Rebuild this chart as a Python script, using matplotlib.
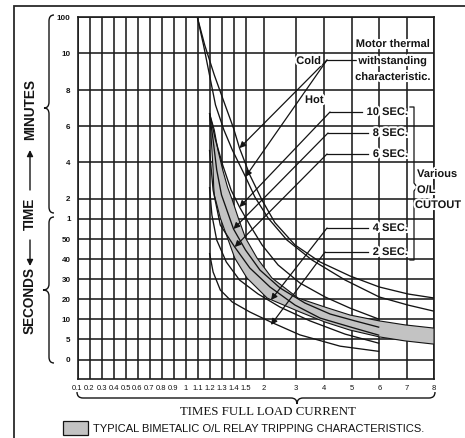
import numpy as np
import matplotlib
matplotlib.use("Agg")
import matplotlib.pyplot as plt
from matplotlib.path import Path
from matplotlib.patches import PathPatch, Rectangle
import matplotlib.patheffects as pe

# ---------------------------------------------------------------- data
# multiples of full load current shown on the horizontal axis
current_ticks = [0.1, 0.2, 0.3, 0.4, 0.5, 0.6, 0.7, 0.8, 0.9, 1.0, 1.1, 1.2, 1.3,
                 1.4, 1.5, 2, 3, 4, 5, 6, 7, 8]
current_labels = ["0.1", "0.2", "0.3", "0.4", "0.5", "0.6", "0.7", "0.8", "0.9",
                  "1", "1.1", "1.2", "1.3", "1.4", "1.5", "2", "3", "4", "5", "6",
                  "7", "8"]
# elapsed time in seconds (upper part of the scale is read in minutes)
time_ticks = [0, 5, 10, 20, 30, 40, 50, 60, 120, 240, 360, 480, 600, 6000]
time_labels = ["0", "5", "10", "20", "30", "40", "50", "1", "2", "4", "6", "8",
               "10", "100"]

# motor thermal withstanding characteristic
cold_x = [1.10, 1.16, 1.24, 1.33, 1.40, 1.45, 1.62, 1.96, 2.35, 2.97, 3.86, 4.94, 6.0, 7.05, 8.0]
cold_t = [5900, 1850, 529, 430, 353, 287, 198, 115, 58, 47, 38.5, 31.5, 26, 22.5, 20.5]
hot_x = [1.10, 1.15, 1.20, 1.25, 1.32, 1.39, 1.50, 1.76, 2.14, 2.72, 3.57, 4.76, 6.0, 7.05, 8.0]
hot_t = [5900, 1850, 529, 430, 347, 281, 192, 125, 61.5, 49.5, 39.5, 29.5, 21, 17, 14]

# typical bimetallic O/L relay tripping band
band_hi_x = [1.20, 1.24, 1.27, 1.31, 1.35, 1.39, 1.44, 1.50, 1.82, 2.26, 3.07, 4.04, 4.94, 6.0, 6.94, 8.0]
band_hi_t = [403, 347, 281, 215, 158, 115.5, 61.5, 50.5, 40.5, 30.5, 20.5, 16, 12.1, 9.6, 8.6, 7.8]
band_lo_x = [1.20, 1.21, 1.22, 1.23, 1.235, 1.24, 1.29, 1.35, 1.41, 1.54, 2.11, 3.14, 4.04, 4.94, 6.0, 6.94, 8.0]
band_lo_t = [403, 347, 281, 215, 158, 132, 61.5, 50.5, 40.5, 30.5, 20.5, 13.6, 9.3, 7.3, 5.6, 4.6, 3.8]

# O/L cutout classes (trip time at 6 x FLC)
ol10_x = [1.20, 1.25, 1.31, 1.38, 1.45, 1.62, 1.96, 2.45, 3.14, 4.04, 4.94, 6.0]
ol10_t = [403, 314, 231, 148, 94.5, 56.8, 47, 37, 28, 21, 15.5, 10]
ol8_x = [1.20, 1.23, 1.26, 1.30, 1.40, 1.50, 1.90, 2.51, 3.32, 4.22, 5.12, 6.0]
ol8_t = [403, 314, 215, 132, 54.9, 44.5, 34.5, 25.5, 18, 12.6, 9.6, 8]
ol6_x = [1.20, 1.23, 1.29, 1.41, 1.62, 2.20, 2.97, 3.86, 4.94, 6.0]
ol6_t = [281, 148, 56.8, 46, 35.5, 26, 17, 10.6, 8.1, 6]
ol4_x = [1.20, 1.22, 1.26, 1.34, 1.45, 1.85, 2.51, 3.5, 4.76, 6.0]
ol4_t = [158, 70.5, 49.5, 38.5, 29.5, 22.5, 16, 9.6, 6.3, 4]
ol2_x = [1.20, 1.23, 1.29, 1.39, 1.62, 2.23, 3.14, 4.58, 6.0]
ol2_t = [43, 33.5, 24.5, 18.5, 13.6, 9.3, 6.1, 3.3, 2]

# points on the curves that the leaders point to
cold_tip = (1.45, 287)
hot_tip = (1.50, 192)
class_tips = {"10": (1.45, 94.5), "8": (1.40, 54.9), "6": (1.41, 46),
              "4": (2.23, 19.5), "2": (2.23, 8.6)}

# ---------------------------------------------------------------- layout
W, H, DPI = 465, 438, 100
X_GRID_PX = [77.5 + 12.0 * i for i in range(15)] + [263.5, 296, 324, 351.7, 379.3, 406.7, 434]
Y_VALS = [-5] + time_ticks
Y_GRID_PX = [378.5, 359.5, 339.3, 319.3, 299, 279, 259, 239, 218.5, 198.5, 162.3,
             126, 90, 53.3, 17.3]
Y_NEG = [-p for p in Y_GRID_PX]


def x_fwd(v):
    return np.interp(v, current_ticks, X_GRID_PX)


def x_inv(p):
    return np.interp(p, X_GRID_PX, current_ticks)


def y_fwd(v):
    return np.interp(v, Y_VALS, Y_NEG)


def y_inv(p):
    return np.interp(p, Y_NEG, Y_VALS)


SANS = ["Liberation Sans", "DejaVu Sans"]
INK = "#141414"
GRID = "#1c1c1c"
BAND = "#c3c3c3"

fig = plt.figure(figsize=(W / DPI, H / DPI), dpi=DPI)
fig.patch.set_facecolor("white")

ax = fig.add_axes([77.5 / W, 1 - 378.5 / H, (434 - 77.5) / W, (378.5 - 17.3) / H])
ax.set_xscale("function", functions=(x_fwd, x_inv))
ax.set_yscale("function", functions=(y_fwd, y_inv))
ax.set_xlim(0.1, 8)
ax.set_ylim(-5, 6000)

ax.set_xticks(current_ticks)
ax.set_xticklabels(current_labels, family=SANS, fontsize=5.5, color=INK)
ax.set_yticks(time_ticks)
ax.set_yticklabels(time_labels, family=SANS, fontsize=5.8, fontweight="bold", color=INK)
ax.xaxis.set_minor_locator(matplotlib.ticker.NullLocator())
ax.yaxis.set_minor_locator(matplotlib.ticker.NullLocator())
ax.tick_params(axis="both", length=0)
ax.tick_params(axis="x", pad=4.5)
ax.tick_params(axis="y", pad=5.0)
ax.grid(True, color=GRID, lw=1.15)
ax.set_axisbelow(True)
for s in ax.spines.values():
    s.set_color(GRID)
    s.set_linewidth(1.2)

# tripping band
ax.fill(band_hi_x + band_lo_x[::-1], band_hi_t + band_lo_t[::-1],
        facecolor=BAND, edgecolor=INK, lw=0.8, zorder=3)

curve_kw = dict(color=INK, lw=0.95, zorder=4, solid_capstyle="butt")
for xs, ts in [(cold_x, cold_t), (hot_x, hot_t), (ol10_x, ol10_t), (ol8_x, ol8_t),
               (ol6_x, ol6_t), (ol4_x, ol4_t), (ol2_x, ol2_t)]:
    ax.plot(xs, ts, **curve_kw)

# overlay in pixel units for annotations and decorations
ov = fig.add_axes([0, 0, 1, 1])
ov.set_xlim(0, W)
ov.set_ylim(H, 0)
ov.axis("off")

halo = [pe.withStroke(linewidth=3.0, foreground="white")]
lab_kw = dict(family=SANS, fontweight="bold", fontsize=8.0, color=INK,
              path_effects=halo, zorder=6)

arrow_kw = dict(arrowstyle="-|>", mutation_scale=9, lw=0.9, color=INK,
                shrinkA=0, shrinkB=0)

# motor thermal label and leaders
ov.text(393, 44, "Motor thermal", ha="center", va="center", **lab_kw)
ov.text(393, 61, "withstanding", ha="center", va="center", **lab_kw)
ov.text(393, 77, "characteristic.", ha="center", va="center", **lab_kw)
ov.text(321, 61, "Cold", ha="right", va="center", **lab_kw)
ov.text(305, 100, "Hot", ha="left", va="center", **lab_kw)
ov.plot([327, 356], [60, 60], color=INK, lw=0.9, zorder=5)
for tip in (cold_tip, hot_tip):
    ax.annotate("", xy=tip, xytext=(327, 60), textcoords=ov.transData,
                arrowprops=arrow_kw, zorder=5)

# O/L class labels with leaders
class_rows = [("10", 112, 330), ("8", 133, 328), ("6", 154, 327),
              ("4", 228, 327), ("2", 252, 325)]
for name, yy, xe in class_rows:
    ov.text(408, yy, f"{name} SEC.", ha="right", va="center", **lab_kw)
    tw = 43 if name == "10" else 37
    ov.plot([xe, 408 - tw - 3], [yy, yy], color=INK, lw=0.9, zorder=5)
    ax.annotate("", xy=class_tips[name], xytext=(xe, yy), textcoords=ov.transData,
                arrowprops=arrow_kw, zorder=5)

# bracket grouping the cutout classes
ov.plot([410, 414, 414, 417, 414, 414, 410], [107, 107, 183, 187, 191, 260, 260],
        color=INK, lw=0.9, zorder=5)
ov.text(417, 174, "Various", ha="left", va="center", **lab_kw)
ov.text(417, 190, "O/L", ha="left", va="center", **lab_kw)
ov.text(415, 205, "CUTOUT", ha="left", va="center", **lab_kw)


def vbrace(xs, xt, xh, y1, y2, ym, r=6):
    v = [(xh, y1), (xs, y1), (xs, y1 + r), (xs, ym - r), (xs, ym), (xt, ym),
         (xs, ym), (xs, ym + r), (xs, y2 - r), (xs, y2), (xh, y2)]
    c = [Path.MOVETO, Path.CURVE3, Path.CURVE3, Path.LINETO, Path.CURVE3, Path.CURVE3,
         Path.CURVE3, Path.CURVE3, Path.LINETO, Path.CURVE3, Path.CURVE3]
    return Path(v, c)


def hbrace(ys, yt, yh, x1, x2, xm, r=6):
    v = [(x1, yh), (x1, ys), (x1 + r, ys), (xm - r, ys), (xm, ys), (xm, yt),
         (xm, ys), (xm + r, ys), (x2 - r, ys), (x2, ys), (x2, yh)]
    c = [Path.MOVETO, Path.CURVE3, Path.CURVE3, Path.LINETO, Path.CURVE3, Path.CURVE3,
         Path.CURVE3, Path.CURVE3, Path.LINETO, Path.CURVE3, Path.CURVE3]
    return Path(v, c)


brace_kw = dict(facecolor="none", edgecolor=INK, lw=1.0)
ov.add_patch(PathPatch(vbrace(49, 44, 54, 15, 213, 108), **brace_kw))
ov.add_patch(PathPatch(vbrace(49, 43, 54, 217, 363, 290), **brace_kw))
ov.add_patch(PathPatch(hbrace(398, 404, 392, 77, 435, 297), **brace_kw))

# vertical axis title
ax_kw = dict(family=SANS, fontweight="bold", fontsize=9.8, color=INK,
             rotation=90, ha="center", va="center")
ov.text(30, 110, "MINUTES", **ax_kw)
ov.text(30, 214, "TIME", **ax_kw)
ov.text(30, 300, "SECONDS", **ax_kw)
ov.annotate("", xy=(30, 150), xytext=(30, 190), arrowprops=dict(
    arrowstyle="-|>", mutation_scale=9, lw=1.0, color=INK, shrinkA=0, shrinkB=0))
ov.annotate("", xy=(30, 266), xytext=(30, 240), arrowprops=dict(
    arrowstyle="-|>", mutation_scale=9, lw=1.0, color=INK, shrinkA=0, shrinkB=0))

# horizontal axis title and legend
ov.text(268, 412, "TIMES FULL LOAD CURRENT", family=["Liberation Serif", "DejaVu Serif"],
        fontsize=9.3, color=INK, ha="center", va="center")
ov.add_patch(Rectangle((63, 421), 25, 14, facecolor=BAND, edgecolor=INK, lw=0.9))
ov.text(93, 428.5, "TYPICAL BIMETALIC O/L RELAY TRIPPING CHARACTERISTICS.",
        family=SANS, fontsize=8, color=INK, ha="left", va="center")

# outer frame
ov.plot([14, 14, 466], [440, 6, 6], color="#2a2a2a", lw=1.3, solid_joinstyle="miter")

fig.savefig("out.png", dpi=DPI, facecolor="white")
